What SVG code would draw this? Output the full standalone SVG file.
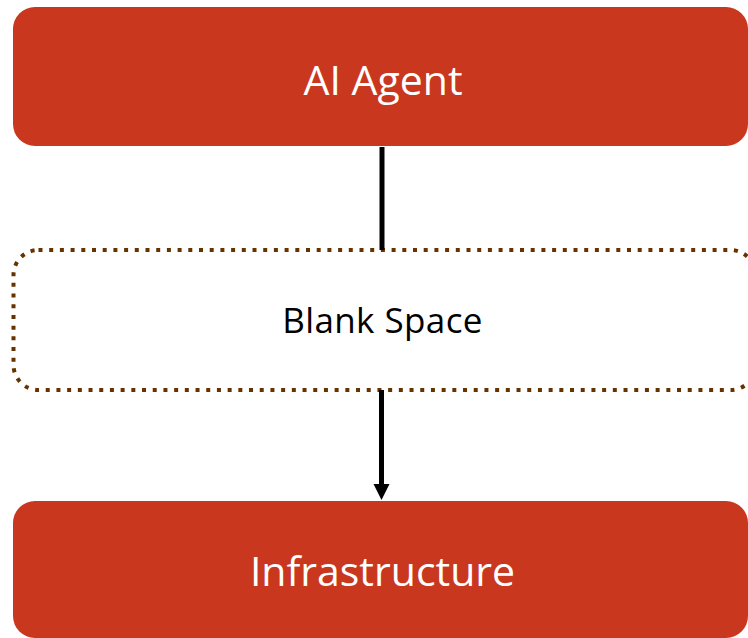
<svg xmlns="http://www.w3.org/2000/svg" width="748" height="638" viewBox="0 0 748 638">
  <defs>
    <style>
      .box { fill: #C9371F; }
      .frame { fill: #FFFFFF; stroke: #663300; stroke-width: 4; stroke-dasharray: 4 6.7; }
      .label { font-family: "Open Sans", "Noto Sans", sans-serif; text-anchor: middle; }
      .light { fill: #FFFFFF; font-size: 41px; }
      .dark { fill: #000000; font-size: 35px; letter-spacing: 0.4px; }
      .wire { stroke: #000000; stroke-width: 5; fill: none; }
    </style>
  </defs>

  <g id="agent">
    <rect class="box" x="13" y="7" width="735" height="139" rx="22" ry="22"/>
    <text class="label light" x="383" y="95">AI Agent</text>
  </g>

  <g id="blank-space">
    <rect class="frame" x="13.5" y="250" width="742" height="140" rx="25" ry="25"/>
    <text class="label dark" x="382.5" y="333">Blank Space</text>
  </g>

  <g id="infrastructure">
    <rect class="box" x="13" y="501" width="735" height="137" rx="22" ry="22"/>
    <text class="label light" x="382.5" y="586">Infrastructure</text>
  </g>

  <g id="connectors">
    <line class="wire" x1="382" y1="147" x2="382" y2="250"/>
    <line class="wire" x1="381.5" y1="390" x2="381.5" y2="486"/>
    <path d="M373.5,484 L389.5,484 L381.5,500 Z" fill="#000000"/>
  </g>
</svg>
